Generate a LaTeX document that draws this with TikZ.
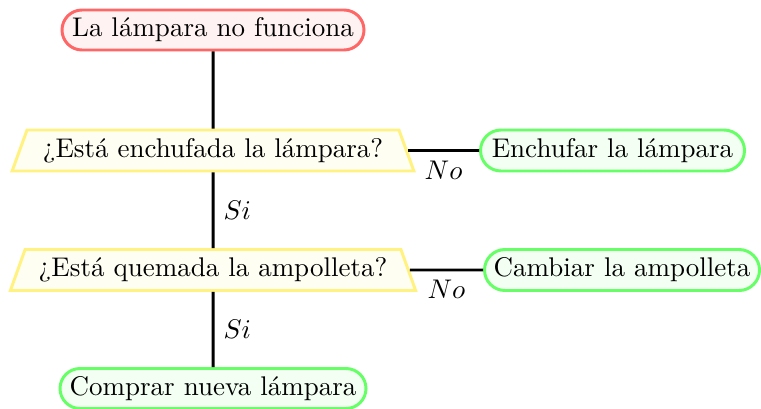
\documentclass[tikz,border=0pt]{standalone}
\usetikzlibrary{shapes.geometric,shapes.misc}
\def\pxu{0.37037pt}
\definecolor{decline}{RGB}{255,242,128}
\tikzset{
  x=0.37037pt, y=-0.37037pt,
  termbox/.style={rounded rectangle, draw=#1!60, fill=#1!5, line width=1.1pt,
     minimum height=40*\pxu, inner sep=0pt},
  decbox/.style={trapezium, trapezium left angle=61, trapezium right angle=61,
     trapezium stretches=true, draw=decline, fill=yellow!5, line width=1.1pt,
     minimum height=41*\pxu, inner sep=0pt},
  conn/.style={draw=black, line width=1.1pt}
}
\begin{document}
\begin{tikzpicture}
\useasboundingbox (0,0) rectangle (761,408);
\node[termbox=red, minimum width=302*\pxu] (start) at (213,30) {La lámpara no funciona};
\node[decbox, minimum width=402*\pxu] (q1) at (213,150.5) {¿Está enchufada la lámpara?};
\node[termbox=green, minimum width=264*\pxu, minimum height=41*\pxu] (a1) at (612.5,150.5) {Enchufar la lámpara};
\node[decbox, minimum width=406*\pxu] (q2) at (213,270) {¿Está quemada la ampolleta?};
\node[termbox=green, minimum width=275*\pxu, minimum height=41*\pxu] (a2) at (622,270) {Cambiar la ampolleta};
\node[termbox=green, minimum width=306*\pxu] (end) at (213,388.5) {Comprar nueva lámpara};
\draw[conn] (start) -- (q1);
\draw[conn] (q1.east) -- node[below] {$No$} (a1.west);
\draw[conn] (q1) -- node[right] {$Si$} (q2);
\draw[conn] (q2.east) -- node[below] {$No$} (a2.west);
\draw[conn] (q2) -- node[right] {$Si$} (end);
\end{tikzpicture}
\end{document}
